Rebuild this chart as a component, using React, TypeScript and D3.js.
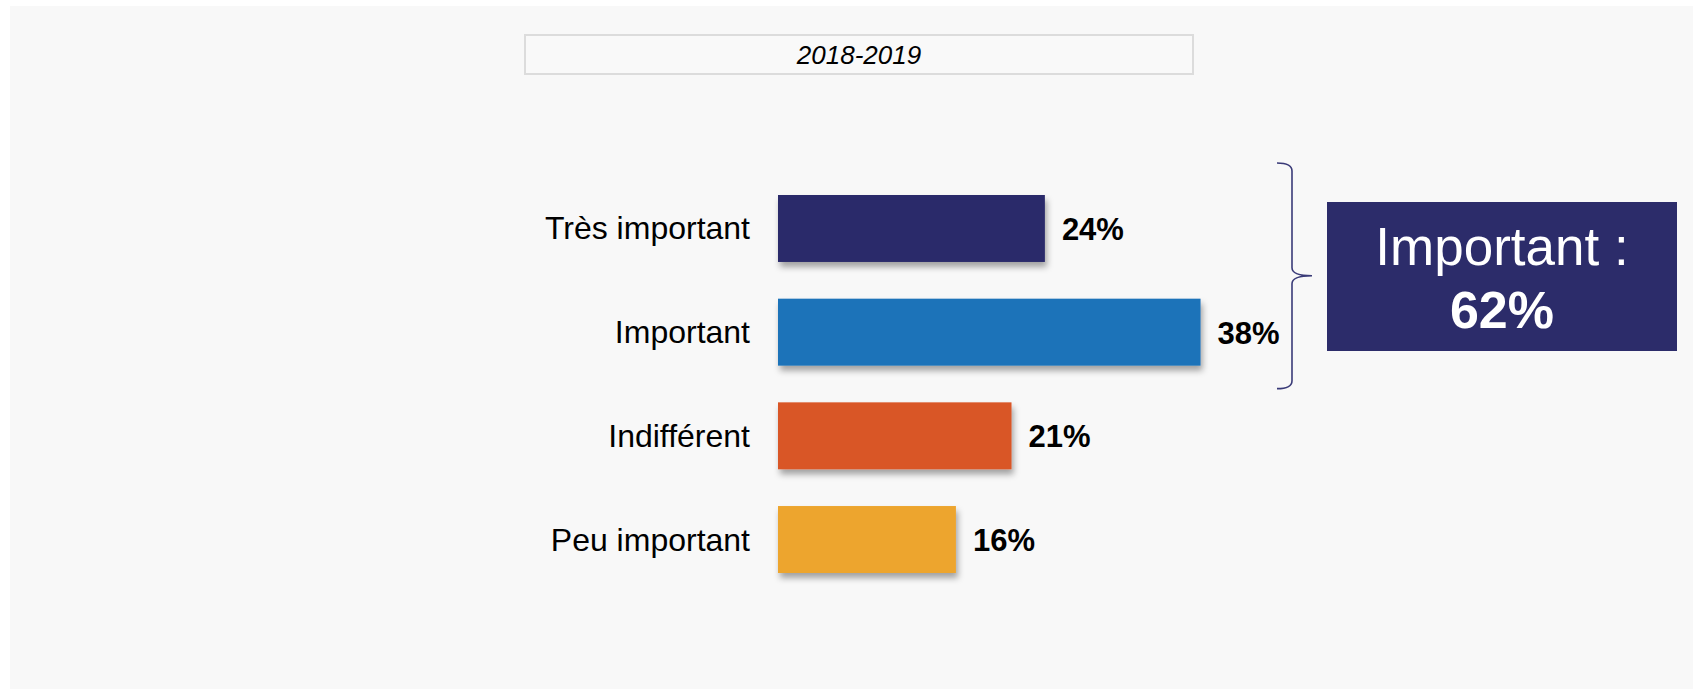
import React from "react";
import * as d3 from "d3";

const categories = ["Très important", "Important", "Indifférent", "Peu important"];
const values = [24, 38, 21, 16];
const colors = ["#2c2c6a", "#1d73b9", "#d95627", "#eda52f"];
const title = "2018-2019";
const groupLabel = "Important :";
const groupIndices = [0, 1];

const W = 1693;
const H = 689;
const FONT = "'Liberation Sans', Arial, Helvetica, sans-serif";

export default function App() {
  const x = d3.scaleLinear().domain([0, 100]).range([778, 778 + 1112]);
  const y = d3
    .scaleBand<string>()
    .domain(categories)
    .range([195, 573])
    .paddingInner(0.354)
    .paddingOuter(0);
  const bw = y.bandwidth();

  const groupTotal = d3.sum(groupIndices, (i) => values[i]);
  const bTop = (y(categories[groupIndices[0]]) as number) - 32;
  const bBot = (y(categories[groupIndices[groupIndices.length - 1]]) as number) + bw + 23;
  const bMid = (bTop + bBot) / 2;
  const bx0 = 1277;
  const bx1 = 1292;
  const bx2 = 1312;
  const path = d3.path();
  path.moveTo(bx0, bTop);
  path.quadraticCurveTo(bx1, bTop, bx1, bTop + 8);
  path.lineTo(bx1, bMid - 8);
  path.quadraticCurveTo(bx1, bMid, bx2, bMid);
  path.quadraticCurveTo(bx1, bMid, bx1, bMid + 8);
  path.lineTo(bx1, bBot - 8);
  path.quadraticCurveTo(bx1, bBot, bx0, bBot);

  return (
    <div style={{ position: "absolute", left: 0, top: 0 }}>
      <svg width={W} height={H} style={{ display: "block" }}>
        <defs>
          <filter id="shadow" x="-10%" y="-30%" width="130%" height="180%">
            <feDropShadow dx="2" dy="5" stdDeviation="3" floodColor="#000" floodOpacity="0.35" />
          </filter>
        </defs>
        <rect x={0} y={0} width={W} height={H} fill="#ffffff" />
        <rect x={10} y={6} width={W - 10} height={H - 6} fill="#f8f8f8" />

        {/* title box */}
        <rect x={525} y={35} width={668} height={39} fill="#f9f9f9" stroke="#dcdcdc" strokeWidth={2} />
        <text
          x={859}
          y={55}
          textAnchor="middle"
          dominantBaseline="central"
          fontFamily={FONT}
          fontStyle="italic"
          fontSize={26}
          fill="#000"
        >
          {title}
        </text>

        {/* bars */}
        {categories.map((c, i) => (
          <rect
            key={c}
            x={x(0)}
            y={y(c) as number}
            width={x(values[i]) - x(0)}
            height={bw}
            fill={colors[i]}
            filter="url(#shadow)"
          />
        ))}

        {/* category labels */}
        {categories.map((c) => (
          <text
            key={"l" + c}
            x={750}
            y={(y(c) as number) + bw / 2}
            textAnchor="end"
            dominantBaseline="central"
            fontFamily={FONT}
            fontSize={32}
            fill="#000"
          >
            {c}
          </text>
        ))}

        {/* value labels */}
        {categories.map((c, i) => (
          <text
            key={"v" + c}
            x={x(values[i]) + 17}
            y={(y(c) as number) + bw / 2 + 1}
            textAnchor="start"
            dominantBaseline="central"
            fontFamily={FONT}
            fontWeight="bold"
            fontSize={31}
            fill="#000"
          >
            {values[i] + "%"}
          </text>
        ))}

        {/* bracket */}
        <path d={path.toString()} fill="none" stroke="#3a3b78" strokeWidth={1.6} />

        {/* summary box */}
        <rect x={1327} y={202} width={350} height={149} fill="#2c2c6a" />
        <text
          x={1502}
          y={265}
          textAnchor="middle"
          fontFamily={FONT}
          fontSize={53}
          fill="#ffffff"
        >
          {groupLabel}
        </text>
        <text
          x={1502}
          y={328}
          textAnchor="middle"
          fontFamily={FONT}
          fontWeight="bold"
          fontSize={52}
          fill="#ffffff"
        >
          {groupTotal + "%"}
        </text>
      </svg>
    </div>
  );
}
